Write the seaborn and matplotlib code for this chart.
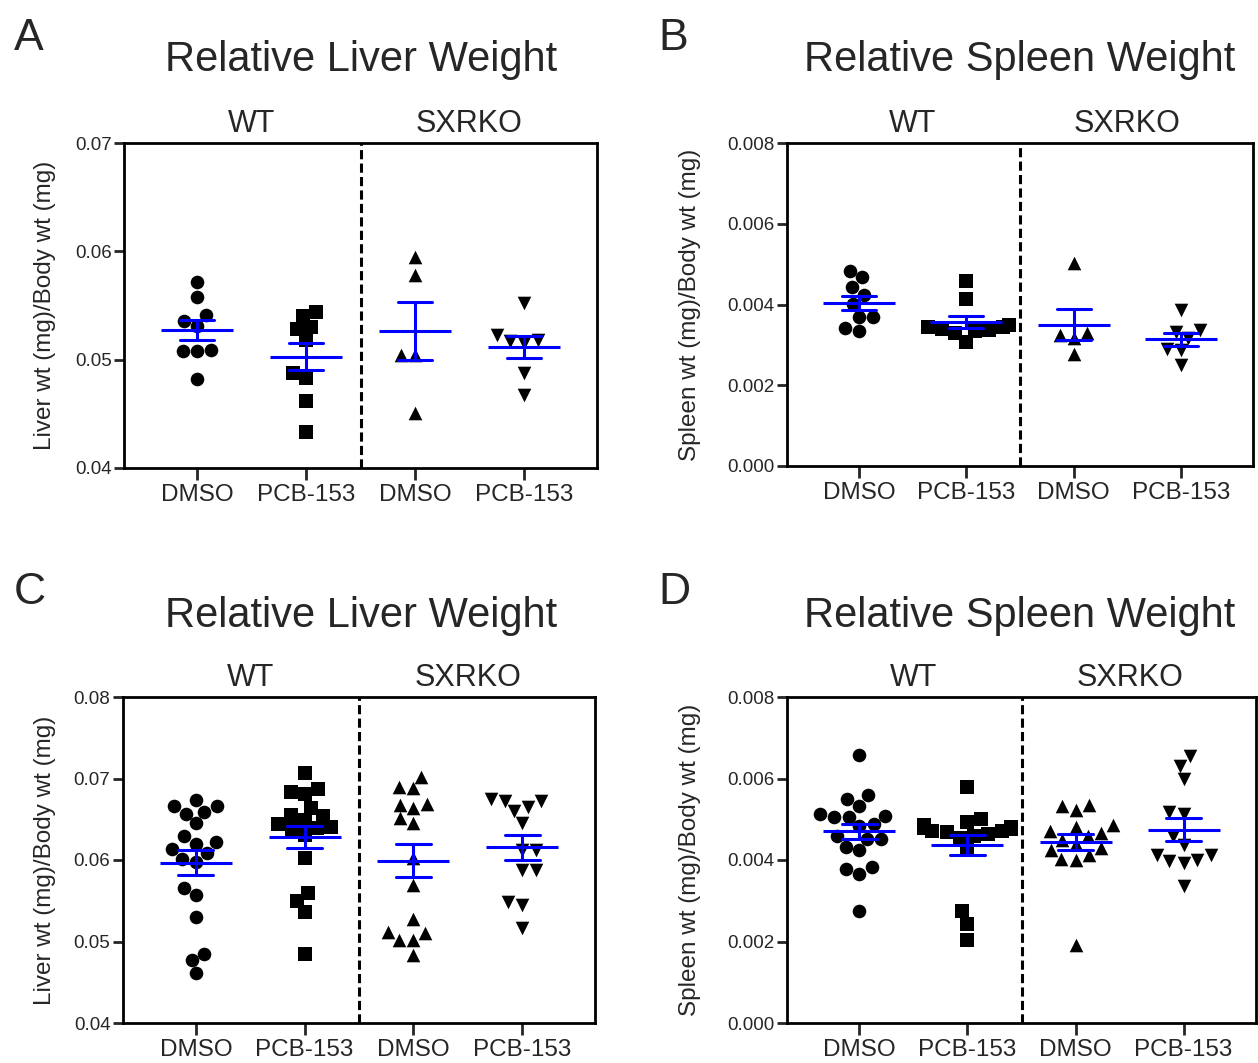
import numpy as np
import pandas as pd
import matplotlib
matplotlib.use("Agg")
import matplotlib.pyplot as plt
import seaborn as sns

# ---- data: organ weight relative to body weight, per animal ----
group_keys = ["WT DMSO", "WT PCB-153", "SXRKO DMSO", "SXRKO PCB-153"]
treatment_labels = ["DMSO", "PCB-153", "DMSO", "PCB-153"]
genotype_labels = ["WT", "SXRKO"]

# Panel A: liver, first cohort
liver1_wt_dmso = [0.0572, 0.0558, 0.0541, 0.0531, 0.0536, 0.0508, 0.0509, 0.0508, 0.0482]
liver1_wt_pcb = [0.0544, 0.0530, 0.0518, 0.0483, 0.0540, 0.0528, 0.0488, 0.0462, 0.0433]
liver1_ko_dmso = [0.0595, 0.0578, 0.0504, 0.0504, 0.0451]
liver1_ko_pcb = [0.0552, 0.0515, 0.0523, 0.0517, 0.0518, 0.0488, 0.0467]

# Panel B: spleen, first cohort
spleen1_wt_dmso = [0.00468, 0.00424, 0.00370, 0.00335, 0.00483, 0.00370, 0.00444, 0.00401, 0.00343]
spleen1_wt_pcb = [0.00458, 0.00413, 0.00350, 0.00345, 0.00340, 0.00338, 0.00335, 0.00330, 0.00345, 0.00308]
spleen1_ko_dmso = [0.00503, 0.00316, 0.00330, 0.00325, 0.00278]
spleen1_ko_pcb = [0.00386, 0.00336, 0.00287, 0.00316, 0.00332, 0.00291, 0.00250]

# Panel C: liver, second cohort
liver2_wt_dmso = [0.0666, 0.0666, 0.0674, 0.0657, 0.0659, 0.0645, 0.0629, 0.0622, 0.0620, 0.0613,
                  0.0609, 0.0598, 0.0601, 0.0557, 0.0566, 0.0530, 0.0477, 0.0485, 0.0461]
liver2_wt_pcb = [0.0707, 0.0687, 0.0681, 0.0684, 0.0664, 0.0655, 0.0654, 0.0649, 0.0638, 0.0639,
                 0.0640, 0.0631, 0.0644, 0.0603, 0.0560, 0.0550, 0.0536, 0.0485]
liver2_ko_dmso = [0.0702, 0.0688, 0.0689, 0.0669, 0.0664, 0.0668, 0.0645, 0.0651, 0.0602, 0.0569,
                  0.0528, 0.0512, 0.0511, 0.0502, 0.0502, 0.0483]
liver2_ko_pcb = [0.0673, 0.0665, 0.0675, 0.0660, 0.0673, 0.0646, 0.0612, 0.0612, 0.0588, 0.0588,
                 0.0545, 0.0549, 0.0517]

# Panel D: spleen, second cohort
spleen2_wt_dmso = [0.00657, 0.00550, 0.00560, 0.00533, 0.00514, 0.00506, 0.00506, 0.00509, 0.00488,
                   0.00484, 0.00460, 0.00452, 0.00452, 0.00433, 0.00424, 0.00382, 0.00378, 0.00366,
                   0.00276]
spleen2_wt_pcb = [0.00579, 0.00500, 0.00493, 0.00485, 0.00480, 0.00478, 0.00475, 0.00472, 0.00470,
                  0.00468, 0.00465, 0.00460, 0.00455, 0.00427, 0.00274, 0.00243, 0.00203]
spleen2_ko_dmso = [0.00522, 0.00534, 0.00532, 0.00482, 0.00487, 0.00466, 0.00470, 0.00450, 0.00458,
                   0.00440, 0.00429, 0.00425, 0.00413, 0.00402, 0.00401, 0.00192]
spleen2_ko_pcb = [0.00654, 0.00631, 0.00599, 0.00514, 0.00517, 0.00460, 0.00438, 0.00397, 0.00413,
                  0.00401, 0.00413, 0.00393, 0.00335]

panel_letters = ["A", "B", "C", "D"]
panel_titles = ["Relative Liver Weight", "Relative Spleen Weight",
                "Relative Liver Weight", "Relative Spleen Weight"]
y_labels = ["Liver wt (mg)/Body wt (mg)", "Spleen wt (mg)/Body wt (mg)",
            "Liver wt (mg)/Body wt (mg)", "Spleen wt (mg)/Body wt (mg)"]
y_ticks = [[0.04, 0.05, 0.06, 0.07], [0.000, 0.002, 0.004, 0.006, 0.008],
           [0.04, 0.05, 0.06, 0.07, 0.08], [0.000, 0.002, 0.004, 0.006, 0.008]]
y_tick_fmt = ["{:.2f}", "{:.3f}", "{:.2f}", "{:.3f}"]

panel_data = [
    [liver1_wt_dmso, liver1_wt_pcb, liver1_ko_dmso, liver1_ko_pcb],
    [spleen1_wt_dmso, spleen1_wt_pcb, spleen1_ko_dmso, spleen1_ko_pcb],
    [liver2_wt_dmso, liver2_wt_pcb, liver2_ko_dmso, liver2_ko_pcb],
    [spleen2_wt_dmso, spleen2_wt_pcb, spleen2_ko_dmso, spleen2_ko_pcb],
]
group_markers = ["o", "s", "^", "v"]

# ---- styling ----
sns.set_style("ticks")
plt.rcParams["font.family"] = ["Liberation Sans", "DejaVu Sans"]
plt.rcParams["axes.linewidth"] = 2.0

W, H = 1258, 1063
fig = plt.figure(figsize=(W / 100, H / 100), dpi=100)


def px_box(left, top, right, bottom):
    return [left / W, 1 - bottom / H, (right - left) / W, (bottom - top) / H]


axes_boxes = [
    px_box(124, 143, 597, 468),
    px_box(787, 143, 1253, 466),
    px_box(123, 697, 595, 1023),
    px_box(787, 697, 1256, 1023),
]
letter_pos = [(14, 50), (658, 50), (14, 604), (658, 604)]
title_pos = [(361, 71), (1020, 71), (361, 627), (1020, 627)]
ylabel_x = [45, 690, 45, 690]

for i in range(4):
    ax = fig.add_axes(axes_boxes[i])
    frames = [pd.DataFrame({"group": key, "value": vals})
              for key, vals in zip(group_keys, panel_data[i])]
    df = pd.concat(frames, ignore_index=True)

    # individual animals
    for key, mk in zip(group_keys, group_markers):
        sns.swarmplot(data=df[df["group"] == key], x="group", y="value",
                      order=group_keys, marker=mk, color="black", size=9.8,
                      linewidth=0, ax=ax, zorder=3, warn_thresh=1.0)

    # mean with SEM
    sns.pointplot(data=df, x="group", y="value", order=group_keys,
                  errorbar="se", capsize=0.32, linestyle="none",
                  marker="_", markersize=52, markeredgewidth=2.2, linewidth=2.2,
                  color="#0000FF", ax=ax, zorder=4)
    for ln in ax.lines:
        ln.set_zorder(4)

    ax.axvline(1.5, color="black", linestyle=(0, (3.0, 1.4)), linewidth=2.2, zorder=1)

    ax.set_xlim(-0.67, 3.67)
    ax.set_ylim(y_ticks[i][0], y_ticks[i][-1])
    ax.set_yticks(y_ticks[i])
    ax.set_yticklabels([y_tick_fmt[i].format(t) for t in y_ticks[i]], fontsize=13.5)
    ax.set_xticks(range(4))
    ax.set_xticklabels(treatment_labels, fontsize=17.5)
    ax.tick_params(axis="y", length=7.5, width=2.0, pad=1.5, direction="out")
    ax.tick_params(axis="x", length=8.5, width=2.0, pad=3, direction="out")
    ax.set_xlabel("")
    ax.set_ylabel("")
    for sp in ax.spines.values():
        sp.set_visible(True)
        sp.set_linewidth(2.0)
        sp.set_color("black")

    tr = ax.get_xaxis_transform()
    ax.text(0.5, 1.012, genotype_labels[0], transform=tr, ha="center", va="bottom",
            fontsize=22)
    ax.text(2.5, 1.012, genotype_labels[1], transform=tr, ha="center", va="bottom",
            fontsize=22)

    # y-axis label, panel title and panel letter in figure coordinates
    box = axes_boxes[i]
    fig.text(ylabel_x[i] / W, box[1] + box[3] / 2, y_labels[i], rotation=90,
             ha="center", va="center", fontsize=17.5)
    fig.text(title_pos[i][0] / W, 1 - title_pos[i][1] / H, panel_titles[i],
             ha="center", va="baseline", fontsize=30)
    fig.text(letter_pos[i][0] / W, 1 - letter_pos[i][1] / H, panel_letters[i],
             ha="left", va="baseline", fontsize=32)

fig.savefig("out.png", dpi=100)
